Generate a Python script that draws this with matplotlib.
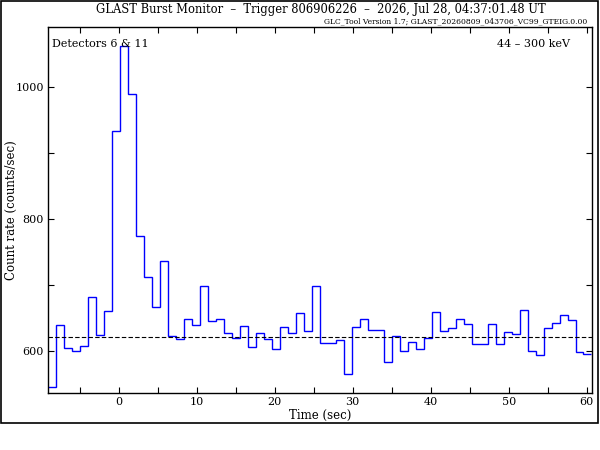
import numpy as np
import matplotlib
matplotlib.use('Agg')
import matplotlib.pyplot as plt
from matplotlib.patches import Rectangle

# Binned count rate (counts/sec), 1.024 s bins
bin_start = -9.024
bin_width = 1.024
rates = [545, 639, 604, 600, 608, 682, 624, 661, 933, 1062,
         990, 774, 712, 667, 736, 623, 618, 648, 639, 698,
         645, 649, 628, 620, 638, 606, 628, 618, 603, 636,
         627, 658, 630, 698, 612, 612, 617, 565, 636, 648,
         632, 632, 583, 623, 600, 614, 603, 620, 659, 630,
         635, 648, 641, 611, 611, 641, 611, 629, 626, 662,
         600, 594, 635, 642, 654, 647, 598, 595]
background = 621

title = 'GLAST Burst Monitor  \u2013  Trigger 806906226  \u2013  2026, Jul 28, 04:37:01.48 UT'
subtitle = 'GLC_Tool Version 1.7; GLAST_20260809_043706_VC99_GTEIG.0.00'
det_text = 'Detectors 6 & 11'
energy_text = '44 \u2013 300 keV'

edges = bin_start + bin_width * np.arange(len(rates) + 1)

plt.rcParams['font.family'] = ['DejaVu Serif']

fig = plt.figure(figsize=(6, 4.5), dpi=100)
ax = fig.add_axes([0.08, 0.126, 0.907, 0.815])

ax.stairs(rates, edges, color='#0000ff', lw=1.0, baseline=None)
ax.axhline(background, color='black', ls=(0, (4, 2)), lw=0.8)

ax.set_xlim(-9.05, 60.7)
ax.set_ylim(536, 1092)
ax.set_xticks([0, 10, 20, 30, 40, 50, 60])
ax.set_xticks(np.arange(-5, 61, 5), minor=True)
ax.set_yticks([600, 800, 1000])
ax.set_yticks([700, 900], minor=True)
ax.tick_params(which='both', direction='in', top=True, right=True,
               length=4, width=0.8, labelsize=8, pad=3)
for s in ax.spines.values():
    s.set_linewidth(1.0)

ax.set_xlabel('Time (sec)', fontsize=8.5, labelpad=1)
ax.set_ylabel('Count rate (counts/sec)', fontsize=8.5)
ax.yaxis.set_label_coords(-0.056, 0.5)

ax.text(0.008, 0.965, det_text, transform=ax.transAxes, fontsize=8,
        ha='left', va='top')
ax.text(0.96, 0.965, energy_text, transform=ax.transAxes, fontsize=8,
        ha='right', va='top')

fig.text(0.534, 0.98, title, fontsize=8.3, ha='center', va='center')
fig.text(0.978, 0.953, subtitle, fontsize=5.5, ha='right', va='center')

# outer frame
fig.patches.append(Rectangle((0.002, 0.06), 0.995, 0.937, transform=fig.transFigure,
                             fill=False, edgecolor='black', lw=1.2))

fig.savefig('out.png', dpi=100)
